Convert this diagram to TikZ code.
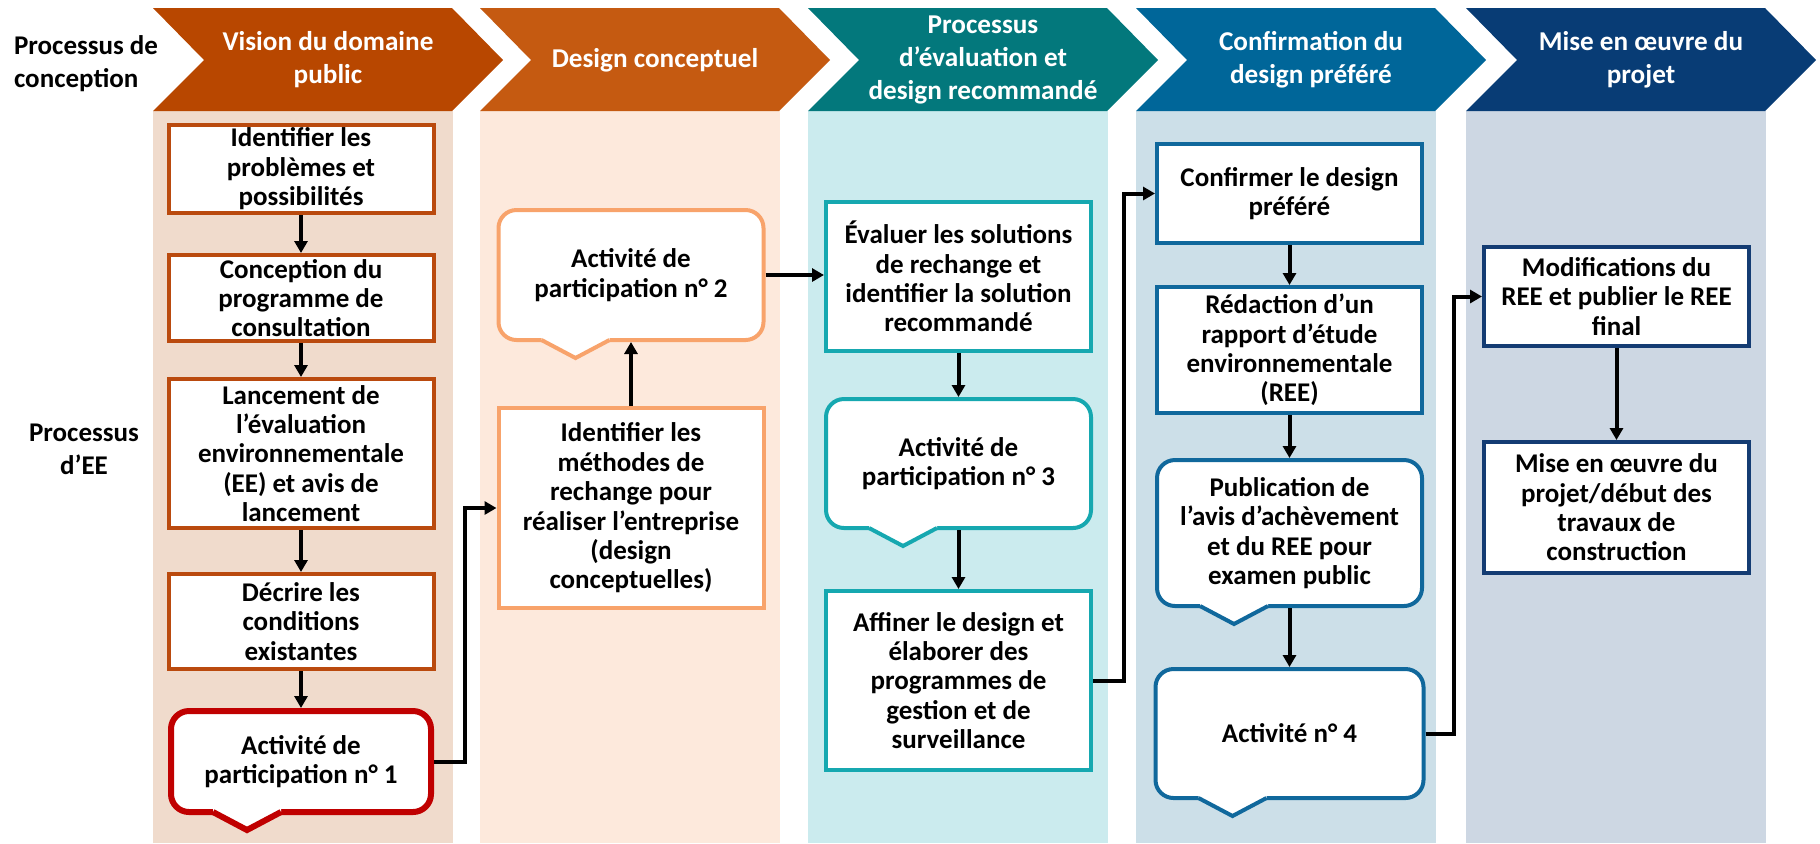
\documentclass[tikz,border=0pt]{standalone}
\usepackage{fontspec}
\setmainfont{Carlito}
\usetikzlibrary{arrows.meta,positioning,calc}

\definecolor{laneA}{RGB}{240,219,204}
\definecolor{laneB}{RGB}{253,233,220}
\definecolor{laneC}{RGB}{203,235,238}
\definecolor{laneD}{RGB}{204,223,232}
\definecolor{laneE}{RGB}{205,215,227}
\definecolor{chevA}{RGB}{184,71,0}
\definecolor{chevB}{RGB}{197,90,17}
\definecolor{chevC}{RGB}{3,120,124}
\definecolor{chevD}{RGB}{0,102,153}
\definecolor{chevE}{RGB}{8,60,117}
\definecolor{edgeA}{RGB}{186,74,14}
\definecolor{edgeRed}{RGB}{192,0,0}
\definecolor{edgeB}{RGB}{248,163,107}
\definecolor{edgeC}{RGB}{22,168,176}
\definecolor{edgeD}{RGB}{16,104,156}
\definecolor{edgeE}{RGB}{20,60,115}

\tikzstyle{box} = [rectangle, draw, fill=white, line width=2pt, inner sep=1pt, align=center, minimum width=132.5pt, font=\bfseries\fontsize{13.5pt}{14.7pt}\selectfont]
\tikzstyle{callbox} = [box, rounded corners=9pt]
\tikzstyle{chevtext} = [align=center, text=white, font=\bfseries\fontsize{13.6pt}{16.5pt}\selectfont]
\tikzstyle{sidetext} = [align=center, font=\bfseries\fontsize{13.5pt}{16.5pt}\selectfont]
\tikzstyle{flowarrow} = [draw, line width=2pt, -{Triangle[length=6pt,width=6.5pt]}]

% tail under a callout: node, colour, line width
\newcommand{\calltail}[3]{%
  \fill[white] ([xshift=22.5pt,yshift=#3]#1.south west) -- ([xshift=22.5pt,yshift=#3/2]#1.south west)
     -- ([xshift=39.5pt,yshift=#3/2-9pt]#1.south west) -- ([xshift=56.5pt,yshift=#3/2]#1.south west)
     -- ([xshift=56.5pt,yshift=#3]#1.south west) -- cycle;
  \draw[#2, line width=#3] ([xshift=22.5pt,yshift=#3/2]#1.south west)
     -- ([xshift=39.5pt,yshift=#3/2-9pt]#1.south west) -- ([xshift=56.5pt,yshift=#3/2]#1.south west);
}

\begin{document}
\begin{tikzpicture}[x=0.5pt, y=-0.5pt]
    \useasboundingbox (0,0) rectangle (1820,843);

    % lanes and chevrons
    \foreach \xo/\lanecol/\chevcol/\txt [count=\i] in {153/laneA/chevA/{Vision du domaine\\public}, 480/laneB/chevB/{Design conceptuel}, 808/laneC/chevC/{Processus\\d’évaluation et\\design recommandé}, 1136/laneD/chevD/{Confirmation du\\design préféré}, 1466/laneE/chevE/{Mise en œuvre du\\projet}}
    {
        \fill[\lanecol] (\xo,111) rectangle ({\xo+300},843);
        \fill[\chevcol] (\xo,8) -- ({\xo+299},8) -- ({\xo+350},60) -- ({\xo+299},111) -- (\xo,111) -- ({\xo+51},60) -- cycle;
        \node[chevtext] (chev\i) at ({\xo+175},60) {\txt};
    }

    \node[sidetext, anchor=west, align=left] (conception) at (7,64) {Processus de\\conception};
    \node[sidetext] (processEE) at (84,449) {Processus\\d’EE};

    % vision du domaine public
    \node[box, draw=edgeA, minimum height=44pt] (ident) at (301,169) {Identifier les\\problèmes et\\possibilités};
    \node[box, draw=edgeA, minimum height=43pt] (consult) at (301,298) {Conception du\\programme de\\consultation};
    \node[box, draw=edgeA, minimum height=74.5pt] (lancer) at (301,453.5) {Lancement de\\l’évaluation\\environnementale\\(EE) et avis de\\lancement};
    \node[box, draw=edgeA, minimum height=47.5pt] (decrire) at (301,621.5) {Décrire les\\conditions\\existantes};
    \node[callbox, draw=edgeRed, line width=3pt, minimum width=130pt, minimum height=50.5pt] (part1) at (301,761.5) {Activité de\\participation n° 1};
    \calltail{part1}{edgeRed}{3pt}

    % design conceptuel
    \node[callbox, draw=edgeB, minimum height=65pt] (part2) at (631,275) {Activité de\\participation n° 2};
    \calltail{part2}{edgeB}{2pt}
    \node[box, draw=edgeB, minimum height=100pt] (methodes) at (631,508) {Identifier les\\méthodes de\\rechange pour\\réaliser l’entreprise\\(design\\conceptuelles)};

    % evaluation
    \node[box, draw=edgeC, minimum height=74.5pt] (evaluer) at (958.5,276.5) {Évaluer les solutions\\de rechange et\\identifier la solution\\recommandé};
    \node[callbox, draw=edgeC, minimum height=64.5pt] (part3) at (958.5,463.5) {Activité de\\participation n° 3};
    \calltail{part3}{edgeC}{2pt}
    \node[box, draw=edgeC, minimum height=89.5pt] (affiner) at (958.5,680.5) {Affiner le design et\\élaborer des\\programmes de\\gestion et de\\surveillance};

    % confirmation
    \node[box, draw=edgeD, minimum height=49.5pt] (confirmer) at (1289.5,193.5) {Confirmer le design\\préféré};
    \node[box, draw=edgeD, minimum height=63pt] (rediger) at (1289.5,350) {Rédaction d’un\\rapport d’étude\\environnementale\\(REE)};
    \node[callbox, draw=edgeD, minimum height=73pt] (publier) at (1289.5,533) {Publication de\\l’avis d’achèvement\\et du REE pour\\examen public};
    \calltail{publier}{edgeD}{2pt}
    \node[callbox, draw=edgeD, minimum width=134pt, minimum height=64.5pt] (part4) at (1289.5,733.5) {Activité n° 4};
    \calltail{part4}{edgeD}{2pt}

    % mise en oeuvre
    \node[box, draw=edgeE, minimum height=49.5pt] (modifier) at (1616.5,296.5) {Modifications du\\REE et publier le REE\\final};
    \node[box, draw=edgeE, minimum height=65.5pt] (realiser) at (1616.5,507.5) {Mise en œuvre du\\projet/début des\\travaux de\\construction};

    % connect the steps
    \foreach \source/\dest in {ident/consult, consult/lancer, lancer/decrire, decrire/part1, evaluer/part3, part3/affiner, confirmer/rediger, rediger/publier, publier/part4, modifier/realiser}
        \path[flowarrow] (\source) -- (\dest);
    \path[flowarrow] (methodes) -- (methodes |- part2.south);
    \path[flowarrow] (part2.east) -- (part2.east -| evaluer.west);
    \path[flowarrow] (part1.east) -| ($(part1.east)!.5!(methodes.west)$) |- (methodes.west);
    \path[flowarrow] (affiner.east) -| ($(affiner.east)!.5!(confirmer.west)$) |- (confirmer.west);
    \path[flowarrow] (part4.east) -| ($(part4.east)!.5!(modifier.west)$) |- (modifier.west);
\end{tikzpicture}
\end{document}
